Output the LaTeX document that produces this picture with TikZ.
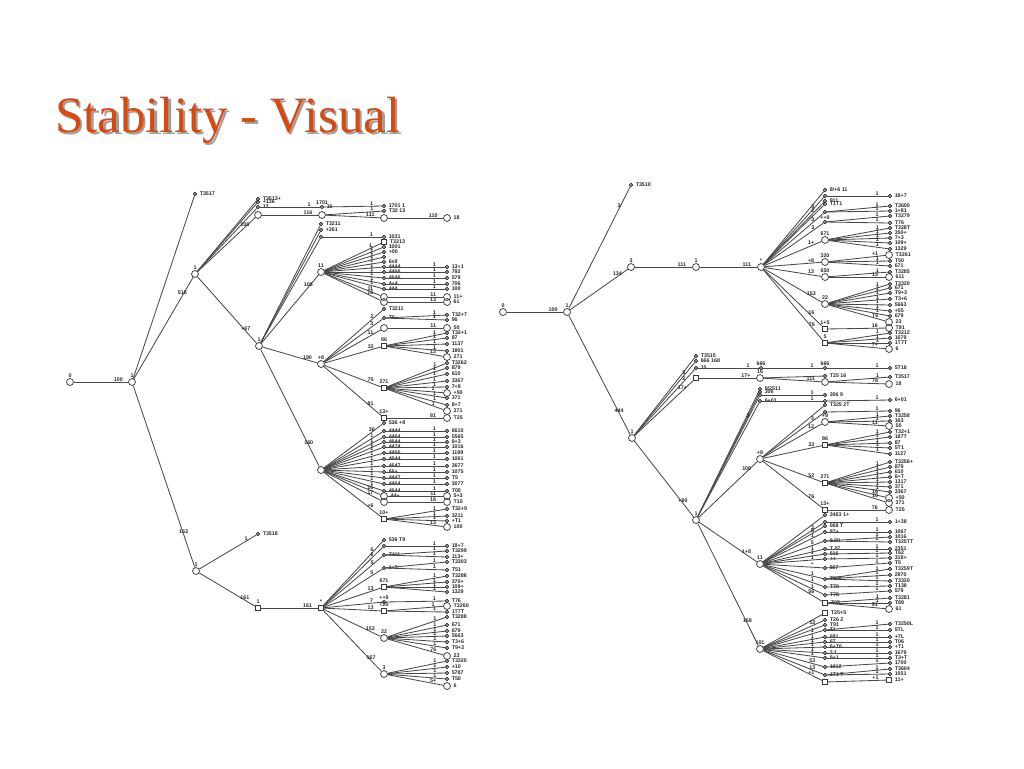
\documentclass[tikz,border=0pt]{standalone}
\usepackage{fontspec}
\setmainfont{Liberation Serif}
\newfontfamily\labelfont{Liberation Sans}
\definecolor{titleorange}{HTML}{D8490F}
\tikzset{
	dotnode/.style={circle, draw, fill=white, inner sep=0pt, minimum size=2.4pt, line width=0.55pt},
	ringnode/.style={circle, draw=black!78, inner sep=0pt, minimum size=5.2pt, line width=0.55pt},
	boxnode/.style={rectangle, draw=black!78, inner sep=0pt, minimum size=4.2pt, line width=0.55pt},
	nodetxt/.style={font=\labelfont\bfseries\fontsize{4}{4.5}\selectfont, text=black!85, inner sep=0.5pt},
	edgetxt/.style={nodetxt, inner sep=0pt, pos=0.82, yshift=2.1pt},
	txtr/.style={label={[nodetxt, label distance=1.4pt]right:#1}},
	txta/.style={label={[nodetxt]above:#1}},
	edgeline/.style={draw=black!72, line width=0.62pt},
	titletxt/.style={font=\fontsize{38.2}{42}\selectfont, anchor=base west, inner sep=0pt}
}
\newcommand{\kid}[5][dotnode]{
	\node[#1] (#3) at (#4) {};
	\draw[edgeline] (#2) -- (#3) node[edgetxt]{#5};
}
\newcommand{\fan}[3]{
	\foreach \ypos/\txt [count=\k] in {#3} {
		\kid[dotnode, txtr=\txt]{#1}{#1-\k}{#2,\ypos}{1}
	}
}
\newcommand{\relay}[4]{
	\foreach \ypos/\midt/\txt [count=\k] in {#4} {
		\kid[dotnode, txtr=\midt]{#1}{#1-m\k}{#2,\ypos}{1}
		\kid[dotnode, txtr=\txt]{#1-m\k}{#1-r\k}{#3,\ypos}{1}
	}
}
\begin{document}
\begin{tikzpicture}[x=0.75pt, y=-0.75pt]
\useasboundingbox (0,0) rectangle (1024,768);
\node[titletxt, text=black!38] (shade) at (57.5,134.5) {Stability - Visual};
\node[titletxt, text=titleorange] (title) at (55,132.5) {Stability - Visual};

% left tree
\node[ringnode, txta=0] (L0) at (70,382) {};
\kid[ringnode, txta=1]{L0}{L1}{132,382}{100}
\kid[dotnode, txtr=T3517]{L1}{L2}{195,194}{}
\kid[ringnode, txta=1]{L1}{L3}{195,274}{518}
\kid[ringnode, txta=1]{L1}{L4}{196,571}{163}
\kid[dotnode, txtr=T3513+]{L3}{L5}{258,199}{}
\kid[dotnode, txtr=+136]{L3}{L6}{258,202}{}
\kid[dotnode, txtr=13]{L3}{L7}{258,207}{}
\kid[ringnode]{L3}{L8}{258,215}{106}
\kid[dotnode, txta=1701, txtr=16]{L7}{L9}{322,207}{1}
\kid[ringnode]{L8}{L10}{322,215}{116}
\kid[dotnode, txtr=1701 1]{L9}{L11}{384,206}{1}
\kid[dotnode, txtr=T32 13]{L10}{L12}{384,211}{1}
\kid[ringnode]{L10}{L13}{384,218}{111}
\kid[ringnode, txtr=18]{L13}{L14}{447,218}{110}
\kid[ringnode, txta=1]{L3}{Lc}{259,346}{+67}

\kid[dotnode, txtr=T3211]{Lc}{Lc1}{321,224}{}
\kid[dotnode, txtr=+361]{Lc}{Lc2}{321,230}{}
\kid[dotnode]{Lc}{Lc3}{321,237}{}
\kid[dotnode, txtr=1031]{Lc3}{Lc4}{384,237}{1}
\kid[ringnode, txta=11]{Lc}{Ld}{321,272}{106}
\kid[ringnode, txta=+8]{Lc}{Le}{321,364}{190}
\kid[ringnode]{Lc}{Lf}{321,470}{160}

\kid[boxnode, txtr=T3213]{Ld}{Ld1}{384,242}{1}
\fan{Ld}{384}{247/1001, 252/+00, 257/, 262/6x9}
\relay{Ld}{384}{447}{267/4444/13+1, 272/4466/792, 278/4646/579, 284/4+4/706, 289/444/100}
\kid[ringnode]{Ld}{Ld6}{384,297}{11}
\kid[ringnode, txtr=11+]{Ld6}{Ld7}{447,297}{11}
\kid[ringnode]{Ld}{Ld8}{384,302}{16}
\kid[ringnode, txtr=61]{Ld8}{Ld9}{447,302}{13}

\kid[dotnode, txtr=T3211]{Le}{Le1}{384,309}{2}
\kid[dotnode, txtr=T5]{Le}{Le2}{384,318}{3}
\kid[ringnode]{Le}{Le3}{384,328}{11}
\kid[boxnode, txta=86]{Le}{Le4}{384,346}{33}
\kid[boxnode, txta=271]{Le}{Le5}{384,388}{75}
\kid[boxnode, txta=13+]{Le}{Le6}{384,418}{81}
\fan{Le2}{447}{315/T32+7, 320/96}
\kid[ringnode, txtr=50]{Le3}{Le7}{447,328}{11}
\fan{Le4}{447}{333/T32+1, 338/87, 344/1137, 351/1801}
\kid[ringnode, txtr=271]{Le4}{Le8}{447,357}{13}
\fan{Le5}{447}{363/T3262, 368/879, 374/610, 381/3367, 387/7+8}
\kid[ringnode, txtr=+50]{Le5}{Le9}{447,393}{1}
\fan{Le5}{447}{398/371, 405/8+7}
\kid[ringnode, txtr=371]{Le5}{Le10}{447,411}{1}
\kid[ringnode, txtr=T25]{Le6}{Le11}{447,418}{81}

\kid[dotnode, txtr=536 +8]{Lf}{Lf0}{384,423}{36}
\relay{Lf}{384}{447}{431/4444/6610, 437/4464/5565, 442/4644/8+3, 447/4474/1016, 453/4466/1199, 459/4644/1061, 466/4647/3677, 472/66+/1075, 478/4447/T5, 484/4464/3077, 491/4644/T05}
\kid[ringnode, txtr=44+]{Lf}{Lf1}{384,496}{16}
\kid[ringnode, txtr=5+3]{Lf1}{Lf2}{447,496}{11}
\kid[ringnode]{Lf}{Lf3}{384,502}{17}
\kid[ringnode, txtr=T15]{Lf3}{Lf4}{447,502}{16}
\kid[boxnode, txta=10+]{Lf}{Lf5}{384,519}{+6}
\fan{Lf5}{447}{509/T32+9, 516/3211, 521/+T1}
\kid[ringnode, txtr=100]{Lf5}{Lf6}{447,527}{13}

\kid[dotnode, txtr=T3518]{L4}{L15}{258,534}{1}
\kid[boxnode, txta=1]{L4}{L16}{258,608}{161}
\kid[boxnode, txta=*]{L16}{Lg}{321,608}{161}
\kid[dotnode, txtr=536 T9]{Lg}{Lg1}{384,540}{6}
\kid[dotnode]{Lg}{Lg2}{384,546}{6}
\kid[dotnode, txtr=T111]{Lg}{Lg3}{384,555}{5}
\kid[dotnode, txtr=1+5]{Lg}{Lg4}{384,568}{5}
\kid[boxnode, txta=671]{Lg}{Lg5}{384,587}{13}
\kid[dotnode, txta=++9]{Lg}{Lg6}{384,602}{7}
\kid[boxnode, txta=T20]{Lg}{Lg7}{384,611}{13}
\kid[ringnode, txta=22]{Lg}{Lg8}{384,638}{153}
\kid[ringnode, txta=3]{Lg}{Lg9}{384,674}{167}
\fan{Lg2}{447}{546/18+7}
\fan{Lg3}{447}{551/T3299, 557/113+}
\fan{Lg4}{447}{562/T3303, 570/T51}
\fan{Lg5}{447}{576/T3286, 582/370+, 587/109+, 592/1329}
\fan{Lg6}{447}{601/T76}
\kid[ringnode, txtr=T3260]{Lg7}{Lg10}{447,606}{1}
\fan{Lg7}{447}{612/1T7T}
\fan{Lg8}{447}{617/T3288, 625/671, 631/679, 636/5663, 642/T3+6, 648/T9+3}
\kid[ringnode, txtr=23]{Lg8}{Lg11}{447,656}{76}
\fan{Lg9}{447}{661/T3320, 667/+10, 673/5787, 679/T50}
\kid[ringnode, txtr=6]{Lg9}{Lg12}{447,686}{5+}

% right tree
\node[ringnode, txta=0] (R0) at (503,312) {};
\kid[ringnode, txta=1]{R0}{R1}{567,312}{100}
\kid[dotnode, txtr=T3510]{R1}{R2}{631,185}{3}
\kid[ringnode, txta=3]{R1}{R3}{631,267}{134}
\kid[ringnode, txta=1]{R3}{R4}{696,267}{111}
\kid[ringnode, txta=*]{R4}{R5}{761,267}{111}
\kid[ringnode, txta=1]{R1}{R6}{632,438}{444}

\kid[dotnode, txtr=T3515]{R6}{R7}{696,356}{}
\kid[dotnode, txtr=666 168]{R6}{R8}{696,361}{3}
\kid[dotnode, txtr=15]{R6}{R9}{696,368}{2}
\kid[boxnode]{R6}{R10}{696,378}{17+}
\kid[dotnode, txta=666]{R9}{R11}{761,368}{1}
\kid[ringnode, txta=16]{R10}{R12}{760,378}{17+}
\kid[dotnode, txta=666]{R11}{R13}{825,368}{1}
\kid[dotnode, txtr=5T18]{R13}{R14}{890,368}{1}
\kid[ringnode]{R12}{R15}{825,382}{111}
\kid[dotnode, txtr=T25 16]{R12}{R16}{825,376}{}
\kid[dotnode, txtr=T3517]{R15}{R17}{890,377}{1}
\kid[ringnode, txtr=18]{R15}{R18}{889,384}{78}

\kid[ringnode, txta=1]{R6}{Ra}{696,520}{+90}
\kid[dotnode, txtr=9/2511]{Ra}{Ra1}{760,389}{}
\kid[dotnode, txtr=306]{Ra}{Ra2}{760,392}{}
\kid[dotnode]{Ra}{Ra3}{760,395}{3}
\kid[dotnode, txtr=6+01]{Ra}{Ra4}{760,401}{}
\kid[dotnode, txtr=306 9]{Ra3}{Ra5}{825,395}{1}
\kid[dotnode]{Ra4}{Ra6}{825,401}{1}
\kid[dotnode, txtr=6+01]{Ra6}{Ra7}{890,400}{1}
\kid[ringnode, txta=+8]{Ra}{Rb}{760,459}{109}
\kid[ringnode, txta=11]{Ra}{Rc}{760,564}{1+8}
\kid[ringnode, txta=101]{Ra}{Rd}{760,649}{168}

\kid[dotnode, txtr=T325 2T]{Rb}{Rb1}{825,405}{}
\kid[dotnode]{Rb}{Rb2}{825,412}{3}
\kid[ringnode, txta=+9]{Rb}{Rb3}{825,422}{12}
\kid[boxnode, txta=86]{Rb}{Rb4}{825,445}{33}
\kid[boxnode, txta=271]{Rb}{Rb5}{825,483}{52}
\kid[boxnode, txta=13+]{Rb}{Rb6}{825,510}{76}
\fan{Rb2}{890}{411/96}
\fan{Rb3}{890}{416/T3258, 421/163}
\kid[ringnode, txtr=50]{Rb3}{Rb7}{889,426}{11}
\fan{Rb4}{890}{432/T32+1, 437/187T, 443/87, 448/5T1, 454/1127}
\fan{Rb5}{890}{462/T3256+, 467/879, 472/610, 477/8+T, 482/1317, 487/371, 492/3367}
\kid[ringnode, txtr=+50]{Rb5}{Rb8}{889,498}{16}
\kid[ringnode, txtr=371]{Rb5}{Rb9}{889,503}{10}
\kid[ringnode, txtr=T25]{Rb6}{Rb10}{889,510}{76}

\kid[dotnode, txtr=3483 1+]{Rc}{Rc1}{825,515}{}
\kid[dotnode]{Rc}{Rc2}{825,522}{3}
\fan{Rc2}{890}{522/1+38}
\kid[dotnode, txtr=068 T]{Rc}{Rc3}{825,526}{6}
\relay{Rc}{825}{890}{532/87+/1067}
\kid[dotnode, txtr=8 20]{Rc}{Rc4}{825,541}{5}
\fan{Rc4}{890}{537/1016, 542/T325TT}
\relay{Rc}{825}{890}{549/T 07/2351}
\kid[dotnode, txtr=616]{Rc}{Rc5}{825,554}{1}
\fan{Rc5}{890}{553/T62}
\kid[dotnode, txtr=++]{Rc}{Rc6}{825,559}{1}
\fan{Rc6}{890}{558/318+}
\kid[dotnode, txtr=807]{Rc}{Rc7}{825,568}{*}
\fan{Rc7}{890}{563/T5}
\kid[dotnode, txtr=T038]{Rc}{Rc8}{825,579}{1}
\fan{Rc8}{890}{569/T3259T, 575/2970, 581/T3320}
\kid[dotnode, txtr=T78]{Rc}{Rc9}{825,587}{1}
\fan{Rc9}{890}{586/T138}
\kid[dotnode, txtr=T78]{Rc}{Rc10}{825,595}{1}
\fan{Rc10}{890}{591/579}
\kid[boxnode, txtr=T08]{Rc}{Rc11}{825,603}{56}
\fan{Rc11}{890}{598/T3281, 603/T89}
\kid[ringnode, txtr=61]{Rc11}{Rc12}{889,609}{91}

\kid[boxnode, txtr=T25+5]{Rd}{Rd1}{825,613}{}
\kid[dotnode, txtr=T26 2]{Rd}{Rd2}{825,620}{53}
\kid[dotnode, txtr=T91]{Rd}{Rd3}{825,625}{}
\kid[dotnode, txtr=T1]{Rd}{Rd4}{825,630}{1}
\fan{Rd4}{890}{624/T3250L, 630/5TL}
\relay{Rd}{825}{890}{637/681/+7L, 642/6T/T06, 647/6+T6/+T1, 653/3 1/1679, 658/6+1/T3+T}
\kid[dotnode, txtr=1012]{Rd}{Rd5}{825,667}{53}
\fan{Rd5}{890}{663/1700}
\kid[dotnode, txtr=1T1 T]{Rd}{Rd6}{825,675}{13}
\fan{Rd6}{890}{669/T3604, 674/1051}
\kid[boxnode]{Rd}{Rd7}{825,682}{+1}
\kid[boxnode, txtr=11+]{Rd7}{Rd8}{889,680}{+1}

\kid[dotnode, txtr=8/+6 11]{R5}{Re1}{825,190}{}
\kid[dotnode]{R5}{Re2}{825,196}{3}
\kid[dotnode, txtr=911]{R5}{Re3}{825,201}{2}
\kid[dotnode, txtr=T1T1]{R5}{Re4}{825,204}{}
\kid[dotnode]{R5}{Re5}{825,212}{3}
\kid[dotnode, txta=++9]{R5}{Re6}{825,222}{3}
\kid[ringnode, txta=671]{R5}{Re7}{825,240}{1+}
\kid[ringnode, txta=320]{R5}{Re8}{825,262}{+8}
\kid[ringnode, txta=650]{R5}{Re9}{825,277}{13}
\kid[ringnode, txta=22]{R5}{Re10}{825,304}{153}
\kid[boxnode, txta=1+5]{R5}{Re11}{825,329}{16}
\kid[boxnode, txta=5]{R5}{Re12}{825,343}{76}
\fan{Re2}{890}{196/18+7}
\fan{Re5}{890}{206/T3600, 211/1+81}
\fan{Re6}{890}{216/T3279, 223/T76}
\fan{Re7}{890}{228/T328T, 233/350+, 238/7+3, 243/109+, 249/1329}
\kid[ringnode, txtr=T3261]{Re8}{Re13}{889,255}{+1}
\fan{Re8}{890}{261/T50, 266/671}
\fan{Re9}{890}{272/T3285}
\kid[ringnode, txtr=611]{Re9}{Re14}{889,277}{13}
\fan{Re10}{890}{284/T3320, 288/671, 293/T9+3, 299/T3+6, 305/5663, 311/+55, 316/679}
\kid[ringnode, txtr=23]{Re10}{Re15}{889,322}{T6}
\kid[ringnode, txtr=T91]{Re11}{Re16}{889,328}{16}
\fan{Re12}{890}{333/T3212, 338/1679, 343/1T7T}
\kid[ringnode, txtr=6]{Re12}{Re17}{889,349}{7+}
\end{tikzpicture}
\end{document}
